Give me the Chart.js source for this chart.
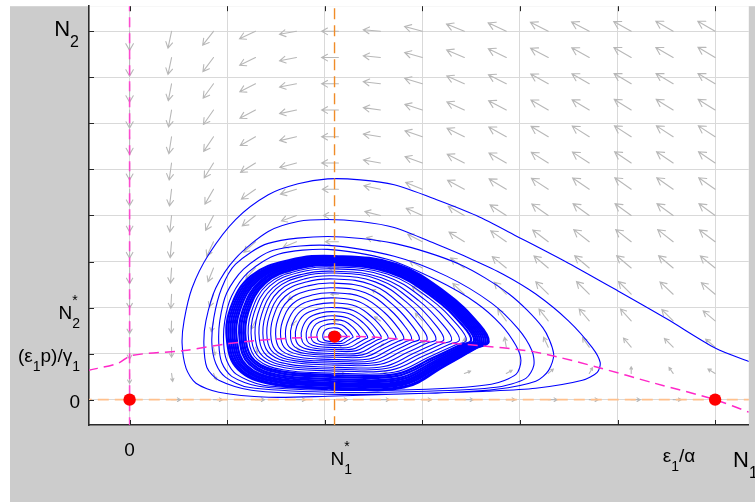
<!DOCTYPE html>
<html>
<head>
<meta charset="utf-8">
<script src="https://cdn.jsdelivr.net/npm/chart.js@4.4.1/dist/chart.umd.min.js"></script>
<style>
  html, body { margin: 0; padding: 0; background: #ffffff; overflow: hidden; }
  canvas { display: block; }
</style>
</head>
<body>
<canvas id="phase" width="755" height="502"></canvas>
<script>
// ---------- axes ----------
const xGrid = [0, 1, 2, 3, 4, 5, 6];
const yGrid = [0, 1, 2, 3, 4, 5, 6, 7, 8];
const xRange = [-0.416, 6.345];
const yRange = [-0.55, 8.545];

// tick labels (TeX-like: _ subscript, ^ superscript)
const xTickLabels = [
  { at: 0, text: '0' },
  { at: 2.17, text: 'N_1^*' },
  { at: 5.63, text: 'ε_1/α' }
];
const yTickLabels = [
  { at: 0, text: '0' },
  { at: 1, text: '(ε_1p)/γ_1' },
  { at: 2, text: 'N_2^*' }
];
const xAxisName = { at: 6.31, text: 'N_1' };
const yAxisName = { at: 8, text: 'N_2' };

// ---------- equilibria ----------
const coexistence = [2.10, 1.37];
const equilibria = [[0, 0], [6, 0], coexistence];

// ---------- nullclines ----------
const preyNullcline = [
  [-0.426, 0.636], [-0.122, 0.787], [0.02, 0.959], [0.558, 1.067], [1.015, 1.218],
  [1.553, 1.325], [2.10, 1.368], [2.437, 1.368], [2.711, 1.325], [3.218, 1.239],
  [3.584, 1.175], [4.061, 1.067], [4.365, 0.938], [4.802, 0.700], [5.381, 0.356],
  [6.0, 0.0], [6.345, -0.27]
];
const preyAxisNullcline = [[0, -0.6], [0, 8.6]];
const predatorNullcline = [[2.10, -0.6], [2.10, 8.6]];
const predatorAxisNullcline = [[-0.5, 0], [6.5, 0]];

// ---------- direction field ----------
const fieldX = [0, 0.43, 0.86, 1.29, 1.71, 2.14, 2.57, 3.0, 3.43, 3.86, 4.29, 4.71, 5.14, 5.57, 6.0];
const fieldY = [0, 0.57, 1.14, 1.71, 2.29, 2.86, 3.43, 4.0, 4.57, 5.14, 5.71, 6.29, 6.86, 7.43, 8.0];
// direction in degrees (0 = +N1, 90 = +N2), rows follow fieldY
const fieldAngle = [
  [0, 0, 0, 0, 0, 0, 0, 0, 0, 0, 0, 0, 0, 0, 0],
  [270, 278, 295, 320, 345, 0, 10, 15, 20, 28, 40, 60, 90, 125, 148],
  [270, 270, 280, 290, 310, 0, 50, 75, 88, 100, 115, 125, 130, 135, 140],
  [270, 268, 258, 242, 220, 180, 145, 132, 127, 126, 128, 130, 132, 135, 140],
  [270, 267, 252, 233, 212, 180, 152, 142, 137, 135, 135, 135, 135, 137, 140],
  [270, 266, 248, 227, 207, 180, 160, 150, 144, 141, 140, 140, 140, 140, 141],
  [270, 265, 245, 222, 203, 180, 163, 153, 148, 145, 143, 142, 142, 142, 143],
  [270, 264, 242, 218, 200, 180, 166, 156, 150, 147, 145, 144, 144, 144, 144],
  [270, 263, 240, 215, 197, 180, 168, 158, 152, 149, 147, 146, 145, 145, 145],
  [270, 262, 238, 212, 195, 180, 170, 160, 153, 150, 148, 147, 146, 146, 146],
  [270, 261, 236, 210, 193, 180, 171, 161, 154, 151, 149, 148, 147, 147, 147],
  [270, 260, 235, 208, 192, 180, 172, 162, 155, 152, 150, 149, 148, 148, 148],
  [270, 259, 234, 207, 191, 180, 173, 163, 156, 153, 151, 150, 149, 149, 149],
  [270, 258, 233, 206, 191, 180, 174, 164, 157, 154, 152, 151, 150, 150, 149],
  [270, 258, 232, 205, 190, 180, 175, 165, 158, 155, 153, 152, 151, 150, 150]
];
// relative arrow length (1 = longest arrow)
const fieldLength = [
  [0, 0.45, 0.45, 0.45, 0.45, 0.45, 0.45, 0.45, 0.45, 0.45, 0.45, 0.45, 0.45, 0.4, 0],
  [0.5, 0.4, 0.35, 0.32, 0.3, 0.3, 0.32, 0.33, 0.33, 0.33, 0.33, 0.33, 0.33, 0.36, 0.42],
  [0.6, 0.5, 0.4, 0.3, 0.2, 0.15, 0.22, 0.35, 0.45, 0.5, 0.55, 0.58, 0.6, 0.62, 0.62],
  [0.63, 0.6, 0.55, 0.45, 0.33, 0.25, 0.35, 0.52, 0.65, 0.72, 0.75, 0.78, 0.8, 0.8, 0.78],
  [0.7, 0.7, 0.66, 0.58, 0.48, 0.38, 0.48, 0.65, 0.78, 0.85, 0.88, 0.9, 0.9, 0.9, 0.9],
  [0.78, 0.76, 0.74, 0.7, 0.6, 0.52, 0.6, 0.75, 0.85, 0.9, 0.93, 0.95, 0.95, 0.95, 0.95],
  [0.82, 0.8, 0.8, 0.78, 0.72, 0.65, 0.72, 0.82, 0.9, 0.95, 0.97, 0.98, 0.98, 0.98, 0.98],
  [0.82, 0.82, 0.84, 0.84, 0.8, 0.75, 0.8, 0.88, 0.93, 0.97, 1, 1, 1, 1, 1],
  [0.82, 0.84, 0.86, 0.86, 0.84, 0.8, 0.84, 0.9, 0.95, 1, 1, 1, 1, 1, 1],
  [0.85, 0.86, 0.88, 0.88, 0.86, 0.84, 0.86, 0.92, 0.96, 1, 1, 1, 1, 1, 1],
  [0.88, 0.86, 0.88, 0.88, 0.86, 0.84, 0.86, 0.92, 0.96, 1, 1, 1, 1, 1, 1],
  [0.9, 0.86, 0.88, 0.88, 0.86, 0.84, 0.86, 0.92, 0.96, 1, 1, 1, 1, 1, 1],
  [0.92, 0.86, 0.88, 0.88, 0.86, 0.84, 0.86, 0.92, 0.96, 1, 1, 1, 1, 1, 1],
  [0.93, 0.86, 0.88, 0.88, 0.86, 0.84, 0.86, 0.92, 0.96, 1, 1, 1, 1, 1, 1],
  [0.95, 0.86, 0.88, 0.88, 0.86, 0.84, 0.86, 0.92, 0.96, 1, 1, 1, 1, 1, 1]
];

// ---------- trajectory entering from the right, winding onto the cycle ----------
const outerOrbit = [
  [6.345, 0.830], [6.010, 1.110], [5.503, 1.756], [5.005, 2.360], [4.497, 2.963],
  [3.990, 3.524], [3.553, 3.998], [3.147, 4.343], [2.711, 4.666], [2.365, 4.774],
  [2.030, 4.795], [1.726, 4.688], [1.421, 4.450], [1.086, 3.912], [0.812, 3.157],
  [0.640, 2.425], [0.558, 1.713], [0.538, 1.218], [0.579, 0.679], [0.680, 0.356],
  [0.914, 0.162], [1.421, 0.054], [2.030, 0.075], [3.046, 0.140], [3.655, 0.183],
  [4.162, 0.248], [4.640, 0.420], [4.792, 0.593], [4.822, 0.808], [4.741, 1.131],
  [4.497, 1.713], [4.162, 2.295], [3.827, 2.726], [3.482, 3.071], [3.147, 3.373],
  [2.711, 3.739], [2.365, 3.869], [2.030, 3.912], [1.726, 3.869], [1.421, 3.653],
  [1.086, 3.071], [0.883, 2.425], [0.782, 1.713], [0.761, 1.218], [0.792, 0.700],
  [0.914, 0.420], [1.249, 0.205], [2.030, 0.119], [3.046, 0.140], [3.756, 0.226],
  [4.162, 0.399], [4.294, 0.636], [4.345, 1.002], [4.234, 1.563], [3.888, 2.295],
  [3.381, 2.942], [2.711, 3.394], [2.030, 3.545], [1.421, 3.394], [1.086, 2.942],
  [0.944, 2.425], [0.863, 1.778], [0.843, 1.218], [0.883, 0.787], [0.985, 0.485],
  [1.218, 0.269], [2.030, 0.162], [3.046, 0.183], [3.756, 0.269], [4.061, 0.463],
  [4.142, 0.744], [4.122, 1.067], [3.980, 1.541], [3.706, 2.101], [3.249, 2.683],
  [2.711, 3.114], [2.030, 3.351], [1.472, 3.244], [1.168, 2.834], [0.995, 2.317],
  [0.924, 1.713], [0.914, 1.218], [0.944, 0.808], [1.046, 0.506], [1.320, 0.291],
  [2.030, 0.205], [3.046, 0.226], [3.706, 0.334], [3.959, 0.550], [4.010, 0.851],
  [3.959, 1.175], [3.807, 1.627], [3.553, 2.101], [3.147, 2.597], [2.640, 3.050],
  [2.030, 3.265], [1.523, 3.157], [1.218, 2.769], [1.046, 2.252], [0.975, 1.713],
  [0.964, 1.218], [0.995, 0.851], [1.096, 0.550], [1.371, 0.313], [2.030, 0.226]
];

// ---------- turns around the coexistence point (extremes of each turn) ----------
const ringLeft = [2.04, 1.98, 1.92, 1.86, 1.81, 1.76, 1.70, 1.65, 1.60, 1.55, 1.50, 1.45, 1.41, 1.37,
  1.33, 1.29, 1.25, 1.22, 1.19, 1.17, 1.15, 1.13, 1.10, 1.08, 1.06, 1.04, 1.02, 1.00];
const ringRight = [2.17, 2.23, 2.29, 2.36, 2.44, 2.51, 2.58, 2.65, 2.73, 2.81, 2.89, 2.97, 3.05, 3.14,
  3.22, 3.30, 3.38, 3.45, 3.50, 3.53, 3.55, 3.57, 3.59, 3.61, 3.63, 3.65, 3.67, 3.68];
const ringTop = [1.48, 1.56, 1.65, 1.74, 1.82, 1.91, 2.00, 2.10, 2.21, 2.32, 2.43, 2.53, 2.62, 2.69,
  2.75, 2.79, 2.84, 2.88, 2.92, 2.94, 2.97, 2.99, 3.01, 3.03, 3.05, 3.07, 3.09, 3.12];
const ringBottom = [1.31, 1.26, 1.22, 1.18, 1.13, 1.09, 1.05, 1.00, 0.96, 0.92, 0.87, 0.83, 0.79, 0.75,
  0.70, 0.66, 0.62, 0.57, 0.53, 0.49, 0.44, 0.40, 0.36, 0.34, 0.31, 0.29, 0.25, 0.23];
const firstDenseRing = 18;

// outline of one turn, in units of its half-extents (u: left/right, v: down/up)
const ringOutline = [[0, -1], [0.45, -0.97], [0.72, -0.55], [0.92, -0.22], [1, -0.1], [0.94, 0.15],
  [0.72, 0.55], [0.4, 0.9], [0, 1], [-0.42, 0.95], [-0.78, 0.75], [-0.97, 0.35], [-1, -0.1],
  [-0.9, -0.62], [-0.6, -0.9], [0, -1]];

// ---------- helpers ----------
const FONT = '"Liberation Sans", Arial, Helvetica, sans-serif';
const toXY = pts => pts.map(p => ({ x: p[0], y: p[1] }));

function ringPoints(i) {
  const [cx, cy] = coexistence;
  const l = cx - ringLeft[i], r = ringRight[i] - cx;
  const t = ringTop[i] - cy, b = cy - ringBottom[i];
  return ringOutline.map(([u, v]) => ({ x: cx + u * (u < 0 ? l : r), y: cy + v * (v > 0 ? t : b) }));
}

function drawTex(ctx, str, x, y, size, align) {
  const runs = [];
  for (let i = 0; i < str.length; i++) {
    const ch = str[i];
    if (ch === '_' || ch === '^') {
      runs.push({ t: str[i + 1], k: ch === '_' ? 'sub' : 'sup' });
      i++;
    } else if (runs.length && runs[runs.length - 1].k === 'n') {
      runs[runs.length - 1].t += ch;
    } else {
      runs.push({ t: ch, k: 'n' });
    }
  }
  const small = Math.round(size * 0.72);
  const shift = k => (k === 'sub' ? size * 0.48 : -size * 0.72);
  const items = [];
  let w = 0;
  for (let j = 0; j < runs.length; j++) {
    const r = runs[j];
    if (r.k === 'n') {
      ctx.font = size + 'px ' + FONT;
      items.push({ t: r.t, x: w, dy: 0, f: size });
      w += ctx.measureText(r.t).width;
    } else {
      ctx.font = small + 'px ' + FONT;
      let wd = ctx.measureText(r.t).width;
      items.push({ t: r.t, x: w, dy: shift(r.k), f: small });
      const nx = runs[j + 1];
      if (nx && nx.k !== 'n' && nx.k !== r.k) {
        items.push({ t: nx.t, x: w, dy: shift(nx.k), f: small });
        wd = Math.max(wd, ctx.measureText(nx.t).width);
        j++;
      }
      w += wd;
    }
  }
  const x0 = align === 'center' ? x - w / 2 : align === 'right' ? x - w : x;
  ctx.textAlign = 'left';
  ctx.textBaseline = 'alphabetic';
  for (const it of items) {
    ctx.font = it.f + 'px ' + FONT;
    ctx.fillText(it.t, x0 + it.x, y + it.dy);
  }
}

// ---------- plugins ----------
const backdrop = {
  id: 'backdrop',
  beforeDraw(chart) {
    const { ctx, chartArea: a } = chart;
    ctx.save();
    ctx.fillStyle = '#ffffff';
    ctx.fillRect(0, 0, chart.width, chart.height);
    ctx.fillStyle = '#cccccc';
    ctx.fillRect(10, a.top, chart.width - 10, chart.height - a.top);
    ctx.fillStyle = '#ffffff';
    ctx.fillRect(a.left, a.top, a.right - a.left, a.bottom - a.top);
    ctx.restore();
  }
};

const quiver = {
  id: 'quiver',
  beforeDatasetsDraw(chart) {
    const { ctx, chartArea: a, scales } = chart;
    const unit = 20;
    ctx.save();
    ctx.beginPath();
    ctx.rect(a.left, a.top, a.right - a.left, a.bottom - a.top);
    ctx.clip();
    ctx.strokeStyle = '#b8b8b8';
    ctx.lineWidth = 1.1;
    ctx.lineCap = 'round';
    for (let r = 0; r < fieldY.length; r++) {
      for (let c = 0; c < fieldX.length; c++) {
        const len = fieldLength[r][c] * unit;
        if (len <= 0) continue;
        const ang = fieldAngle[r][c] * Math.PI / 180;
        const x0 = scales.x.getPixelForValue(fieldX[c]);
        const y0 = scales.y.getPixelForValue(fieldY[r]);
        const x1 = x0 + len * Math.cos(ang);
        const y1 = y0 - len * Math.sin(ang);
        const hl = len * 0.4, spread = 0.52;
        const back = Math.atan2(y0 - y1, x0 - x1);
        ctx.beginPath();
        ctx.moveTo(x0, y0);
        ctx.lineTo(x1, y1);
        ctx.moveTo(x1 + hl * Math.cos(back + spread), y1 + hl * Math.sin(back + spread));
        ctx.lineTo(x1, y1);
        ctx.lineTo(x1 + hl * Math.cos(back - spread), y1 + hl * Math.sin(back - spread));
        ctx.stroke();
      }
    }
    ctx.restore();
  }
};

const frame = {
  id: 'frame',
  afterDatasetsDraw(chart) {
    const { ctx, chartArea: a, scales } = chart;
    ctx.save();
    ctx.strokeStyle = '#262626';
    ctx.lineWidth = 1;
    ctx.beginPath();
    for (const v of yGrid) {
      const y = Math.round(scales.y.getPixelForValue(v)) + 0.5;
      ctx.moveTo(a.left, y); ctx.lineTo(a.left + 5, y);
    }
    for (const v of xGrid) {
      const x = Math.round(scales.x.getPixelForValue(v)) + 0.5;
      ctx.moveTo(x, a.bottom); ctx.lineTo(x, a.bottom - 5);
      ctx.moveTo(x, a.top); ctx.lineTo(x, a.top + 5);
    }
    ctx.stroke();
    ctx.restore();
  },
  afterDraw(chart) {
    const { ctx, chartArea: a, scales } = chart;
    ctx.save();
    ctx.fillStyle = '#000000';
    const xBase = { '0': 31, 'N_1^*': 40, 'ε_1/α': 37 };
    for (const t of xTickLabels) {
      drawTex(ctx, t.text, scales.x.getPixelForValue(t.at), a.bottom + xBase[t.text], 19, 'center');
    }
    drawTex(ctx, xAxisName.text, scales.x.getPixelForValue(xAxisName.at), a.bottom + 42, 22, 'center');
    const yBase = { '0': 8.5, '(ε_1p)/γ_1': 8, 'N_2^*': 11.5 };
    for (const t of yTickLabels) {
      drawTex(ctx, t.text, a.left - 9, scales.y.getPixelForValue(t.at) + yBase[t.text], 19, 'right');
    }
    drawTex(ctx, yAxisName.text, a.left - 10, scales.y.getPixelForValue(yAxisName.at) + 5, 22, 'right');
    ctx.restore();
  }
};

// ---------- datasets ----------
const datasets = [];

datasets.push({
  label: 'equilibria',
  data: toXY(equilibria),
  showLine: false,
  pointRadius: 6.2,
  pointHoverRadius: 6.2,
  pointBackgroundColor: '#ff0000',
  pointBorderWidth: 0,
  order: 0
});

const dashed = (label, pts, color, dash, width, tension) => ({
  label, data: toXY(pts), showLine: true, pointRadius: 0, borderColor: color,
  borderWidth: width, borderDash: dash, tension: tension || 0, fill: false, order: 1
});
datasets.push(dashed('N1 = 0', preyAxisNullcline, 'rgba(255,60,205,0.9)', [10, 6], 1.6));
datasets.push(dashed('N2 = 0', predatorAxisNullcline, 'rgb(255,192,140)', [11, 6], 1.6));
datasets.push(dashed('dN2/dt = 0', predatorNullcline, 'rgb(240,140,40)', [11, 6], 1.4));
datasets.push(dashed('dN1/dt = 0', preyNullcline, 'rgb(255,40,200)', [10, 6], 1.5, 0.3));

datasets.push({
  label: 'trajectory',
  data: toXY(outerOrbit),
  showLine: true,
  pointRadius: 0,
  borderColor: '#0000ff',
  borderWidth: 1.1,
  tension: 0.28,
  fill: false,
  order: 2
});

for (let i = 0; i < ringLeft.length; i++) {
  datasets.push({
    label: 'turn ' + (i + 1),
    data: ringPoints(i),
    showLine: true,
    pointRadius: 0,
    borderColor: '#0000ff',
    borderWidth: i >= firstDenseRing ? 2.2 : 1.1,
    tension: 0.4,
    fill: false,
    order: 2
  });
}

// ---------- chart ----------
const gridScale = (range, ticks) => ({
  type: 'linear',
  min: range[0],
  max: range[1],
  afterBuildTicks: s => { s.ticks = ticks.map(v => ({ value: v })); },
  ticks: { display: false },
  grid: { color: '#d9d9d9', lineWidth: 1, drawTicks: false },
  border: { display: true, color: '#2b2b2b', width: 1.6 }
});

new Chart(document.getElementById('phase'), {
  type: 'scatter',
  data: { datasets },
  options: {
    responsive: false,
    devicePixelRatio: 1,
    animation: false,
    layout: { padding: { left: 89, top: 3, right: 0, bottom: 77 } },
    plugins: { legend: { display: false }, tooltip: { enabled: false } },
    scales: { x: gridScale(xRange, xGrid), y: gridScale(yRange, yGrid) }
  },
  plugins: [backdrop, quiver, frame]
});
</script>
</body>
</html>
